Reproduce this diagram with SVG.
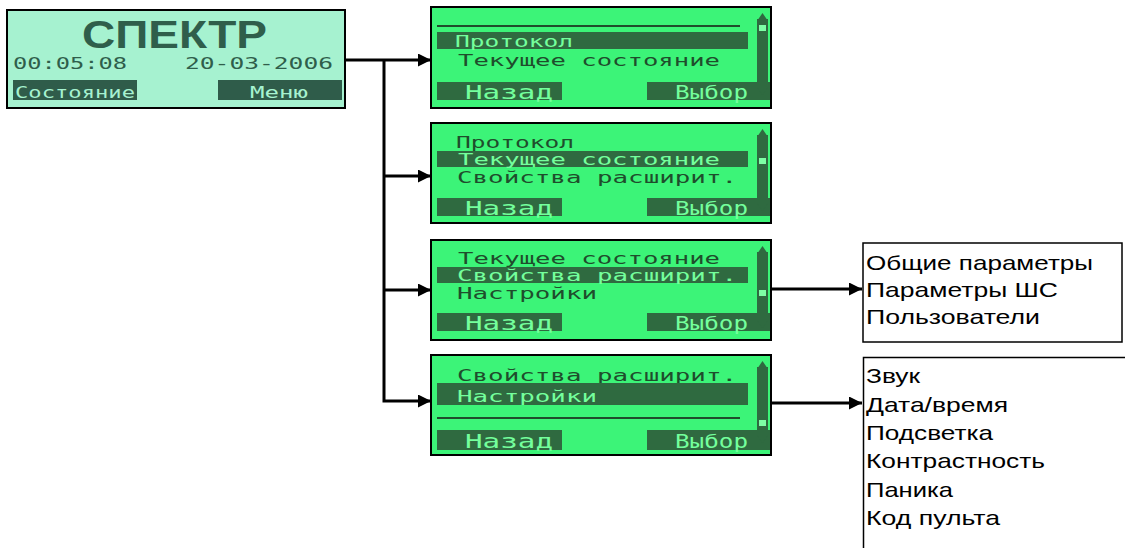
<svg xmlns="http://www.w3.org/2000/svg" width="1125" height="548" viewBox="0 0 1125 548">
<defs>
<style>
.scr{fill:#3cf478;stroke:#000;stroke-width:2}
.main{fill:#a6f2d0;stroke:#000;stroke-width:2}
.band{fill:#2f6a40}
.mband{fill:#2f5c4a}
.lcd{font-family:"DejaVu Sans Mono","Liberation Mono",monospace;font-size:16px}
.key{font-size:19px}
.dk{fill:#1f4d2c}
.lt{fill:#74ff9c}
.mdk{fill:#2f5e4b}
.mlt{fill:#a6f2d0}
.rule{stroke:#1f4d2c;stroke-width:2}
.sb{fill:#2f6a40}
.thumb{fill:#7dffa5}
.conn{fill:none;stroke:#000;stroke-width:3}
.box{fill:#fff;stroke:#000;stroke-width:1.5}
.lbl{font-family:"Liberation Sans",Arial,sans-serif;font-size:21px;fill:#000}
</style>
<marker id="arr" markerUnits="userSpaceOnUse" markerWidth="14" markerHeight="13" refX="13" refY="6.5" orient="auto">
<path d="M0,0 L13,6.5 L0,13 z" fill="#000"/>
</marker>
<g id="scroll">
<rect x="0" y="0" width="11" height="70" class="sb"/>
<path d="M5.5,-6 L11,2 L0,2 z" class="sb"/>
<path d="M5.5,76 L11,68 L0,68 z" class="sb"/>
</g>
</defs>

<g id="main-screen">
<rect x="7" y="10" width="338" height="98" class="main"/>
<text x="82" y="48" font-family="Liberation Sans,DejaVu Sans,sans-serif" font-weight="bold" font-size="39" textLength="185" lengthAdjust="spacingAndGlyphs" class="mdk">СПЕКТР</text>
<text x="13" y="69" class="lcd mdk" font-size="18" textLength="114" lengthAdjust="spacingAndGlyphs">00:05:08</text>
<text x="185" y="69" class="lcd mdk" font-size="18" textLength="148" lengthAdjust="spacingAndGlyphs">20-03-2006</text>
<rect x="13" y="80" width="124" height="20" class="mband"/>
<text x="15" y="98" class="lcd mlt" font-size="19" textLength="120" lengthAdjust="spacingAndGlyphs">Состояние</text>
<rect x="218" y="80" width="124" height="20" class="mband"/>
<text x="250" y="98" class="lcd mlt" font-size="19" textLength="58" lengthAdjust="spacingAndGlyphs">Меню</text>
</g>

<g id="menu-protokol">
<rect x="431" y="7" width="340" height="101" class="scr"/>
<line x1="437" y1="26" x2="740" y2="26" class="rule"/>
<rect x="437" y="32" width="311" height="17" class="band"/>
<text x="455" y="47" class="lcd lt" textLength="118" lengthAdjust="spacingAndGlyphs">Протокол</text>
<text x="458" y="66" class="lcd dk" textLength="262" lengthAdjust="spacingAndGlyphs">Текущее состояние</text>
<rect x="437" y="82" width="125" height="18" class="band"/>
<text x="465" y="99" class="lcd key lt" textLength="88" lengthAdjust="spacingAndGlyphs">Назад</text>
<rect x="647" y="82" width="123" height="18" class="band"/>
<text x="675" y="99" class="lcd key lt" textLength="73" lengthAdjust="spacingAndGlyphs">Выбор</text>
<use href="#scroll" x="757" y="19"/>
<rect x="759" y="25" width="7" height="6" class="thumb"/>
</g>

<g id="menu-tekushchee">
<rect x="431" y="123" width="340" height="100" class="scr"/>
<text x="456" y="148" class="lcd dk" textLength="118" lengthAdjust="spacingAndGlyphs">Протокол</text>
<rect x="437" y="151" width="311" height="16" class="band"/>
<text x="458" y="165" class="lcd lt" textLength="262" lengthAdjust="spacingAndGlyphs">Текущее состояние</text>
<text x="457" y="183" class="lcd dk" textLength="280" lengthAdjust="spacingAndGlyphs">Свойства расширит.</text>
<rect x="437" y="198" width="125" height="18" class="band"/>
<text x="465" y="215" class="lcd key lt" textLength="88" lengthAdjust="spacingAndGlyphs">Назад</text>
<rect x="647" y="198" width="123" height="18" class="band"/>
<text x="675" y="215" class="lcd key lt" textLength="73" lengthAdjust="spacingAndGlyphs">Выбор</text>
<use href="#scroll" x="757" y="135"/>
<rect x="759" y="158" width="7" height="6" class="thumb"/>
</g>

<g id="menu-svoistva">
<rect x="431" y="240" width="340" height="100" class="scr"/>
<text x="458" y="264" class="lcd dk" textLength="262" lengthAdjust="spacingAndGlyphs">Текущее состояние</text>
<rect x="437" y="267" width="311" height="16" class="band"/>
<text x="457" y="281" class="lcd lt" textLength="280" lengthAdjust="spacingAndGlyphs">Свойства расширит.</text>
<text x="457" y="299" class="lcd dk" textLength="140" lengthAdjust="spacingAndGlyphs">Настройки</text>
<rect x="437" y="313" width="125" height="18" class="band"/>
<text x="465" y="330" class="lcd key lt" textLength="88" lengthAdjust="spacingAndGlyphs">Назад</text>
<rect x="647" y="313" width="123" height="18" class="band"/>
<text x="675" y="330" class="lcd key lt" textLength="73" lengthAdjust="spacingAndGlyphs">Выбор</text>
<use href="#scroll" x="757" y="252"/>
<rect x="759" y="290" width="7" height="6" class="thumb"/>
</g>

<g id="menu-nastroiki">
<rect x="431" y="355" width="340" height="100" class="scr"/>
<text x="457" y="381" class="lcd dk" textLength="280" lengthAdjust="spacingAndGlyphs">Свойства расширит.</text>
<rect x="437" y="383" width="311" height="22" class="band"/>
<text x="457" y="402" class="lcd lt" textLength="140" lengthAdjust="spacingAndGlyphs">Настройки</text>
<line x1="437" y1="418" x2="740" y2="418" class="rule"/>
<rect x="437" y="430" width="125" height="20" class="band"/>
<text x="465" y="448" class="lcd key lt" textLength="88" lengthAdjust="spacingAndGlyphs">Назад</text>
<rect x="647" y="430" width="123" height="20" class="band"/>
<text x="675" y="448" class="lcd key lt" textLength="73" lengthAdjust="spacingAndGlyphs">Выбор</text>
<use href="#scroll" x="757" y="367"/>
<rect x="759" y="420" width="7" height="6" class="thumb"/>
</g>

<g id="list-svoistva">
<rect x="863" y="243" width="259" height="99" class="box"/>
<text x="866" y="270" class="lbl" textLength="227" lengthAdjust="spacingAndGlyphs">Общие параметры</text>
<text x="866" y="297" class="lbl" textLength="192" lengthAdjust="spacingAndGlyphs">Параметры ШС</text>
<text x="866" y="324" class="lbl" textLength="174" lengthAdjust="spacingAndGlyphs">Пользователи</text>
</g>

<g id="list-nastroiki">
<path d="M1125,357.5 H863.5 V548" fill="none" stroke="#000" stroke-width="1.5"/>
<text x="866" y="383" class="lbl" textLength="54" lengthAdjust="spacingAndGlyphs">Звук</text>
<text x="866" y="412" class="lbl" textLength="142" lengthAdjust="spacingAndGlyphs">Дата/время</text>
<text x="866" y="440" class="lbl" textLength="127" lengthAdjust="spacingAndGlyphs">Подсветка</text>
<text x="866" y="468" class="lbl" textLength="179" lengthAdjust="spacingAndGlyphs">Контрастность</text>
<text x="866" y="497" class="lbl" textLength="87" lengthAdjust="spacingAndGlyphs">Паника</text>
<text x="866" y="525" class="lbl" textLength="134" lengthAdjust="spacingAndGlyphs">Код пульта</text>
</g>

<g id="connectors">
<path d="M345,60 H431" class="conn" marker-end="url(#arr)"/>
<path d="M384,60 V401 H431" class="conn" marker-end="url(#arr)"/>
<path d="M384,176 H431" class="conn" marker-end="url(#arr)"/>
<path d="M384,290 H431" class="conn" marker-end="url(#arr)"/>
<path d="M771,289 H862" class="conn" marker-end="url(#arr)"/>
<path d="M771,403 H862" class="conn" marker-end="url(#arr)"/>
</g>
</svg>
